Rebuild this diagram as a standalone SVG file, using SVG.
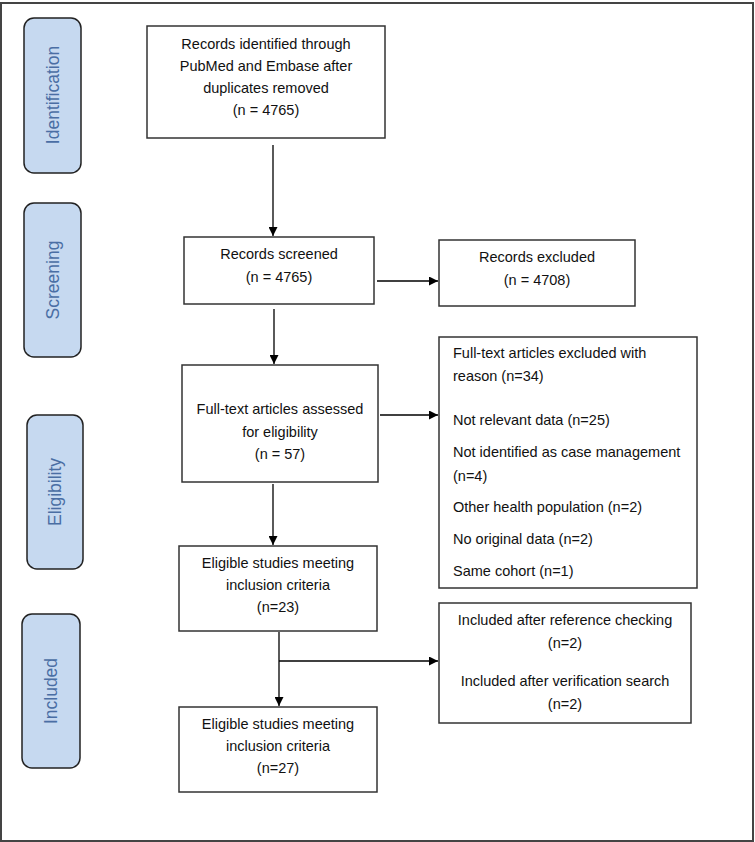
<svg xmlns="http://www.w3.org/2000/svg" width="755" height="842" viewBox="0 0 755 842">
<defs>
<marker id="ah" viewBox="0 0 10 10" refX="10" refY="5" markerWidth="9" markerHeight="9" markerUnits="userSpaceOnUse" orient="auto">
<path d="M0,0 L10,5 L0,10 z" fill="#000"/>
</marker>
</defs>
<style>
.frame{fill:#fff;stroke:#444;stroke-width:2}
.pill{fill:#c6d9f0;stroke:#222;stroke-width:1.5}
.pt{font-family:"Liberation Sans",Arial,sans-serif;font-size:17.5px;fill:#4a6ea4;text-anchor:middle;dominant-baseline:central}
.box{fill:#fff;stroke:#333;stroke-width:1.5}
.t{font-family:"Liberation Sans",Arial,sans-serif;font-size:14.5px;fill:#111;text-anchor:middle;dominant-baseline:central}
.tl{font-family:"Liberation Sans",Arial,sans-serif;font-size:14.5px;fill:#111;dominant-baseline:central}
.c{fill:none;stroke:#000;stroke-width:1.3}
</style>
<rect x="0" y="0" width="755" height="842" fill="#fff"/>
<rect class="frame" x="1" y="3" width="752" height="838"/>

<g id="stage-identification">
<rect class="pill" x="24" y="18" width="57" height="155" rx="10"/>
<text class="pt" transform="translate(52.5,95) rotate(-90)">Identification</text>
</g>
<g id="stage-screening">
<rect class="pill" x="24" y="203" width="57" height="154" rx="10"/>
<text class="pt" transform="translate(52.5,280) rotate(-90)">Screening</text>
</g>
<g id="stage-eligibility">
<rect class="pill" x="27" y="415" width="56" height="154" rx="10"/>
<text class="pt" transform="translate(55,492) rotate(-90)">Eligibility</text>
</g>
<g id="stage-included">
<rect class="pill" x="22" y="614" width="58" height="154" rx="10"/>
<text class="pt" transform="translate(51,691) rotate(-90)">Included</text>
</g>

<g id="connectors">
<line class="c" x1="273" y1="145" x2="273" y2="236" marker-end="url(#ah)"/>
<line class="c" x1="377" y1="281" x2="438" y2="281" marker-end="url(#ah)"/>
<line class="c" x1="274" y1="309" x2="274" y2="364" marker-end="url(#ah)"/>
<line class="c" x1="380" y1="415" x2="438" y2="415" marker-end="url(#ah)"/>
<line class="c" x1="273" y1="484" x2="273" y2="545" marker-end="url(#ah)"/>
<line class="c" x1="279" y1="632" x2="279" y2="706" marker-end="url(#ah)"/>
<line class="c" x1="279" y1="661" x2="438" y2="661" marker-end="url(#ah)"/>
</g>

<g id="n-identified">
<rect class="box" x="147" y="26" width="238" height="112"/>
<text class="t" x="266" y="44">Records identified through</text>
<text class="t" x="266" y="66">PubMed and Embase after</text>
<text class="t" x="266" y="88">duplicates removed</text>
<text class="t" x="266" y="110">(n = 4765)</text>
</g>
<g id="n-screened">
<rect class="box" x="184" y="237" width="190" height="67"/>
<text class="t" x="279" y="254">Records screened</text>
<text class="t" x="279" y="277">(n = 4765)</text>
</g>
<g id="n-excluded">
<rect class="box" x="439" y="240" width="196" height="66"/>
<text class="t" x="537" y="257">Records excluded</text>
<text class="t" x="537" y="280">(n = 4708)</text>
</g>
<g id="n-fulltext">
<rect class="box" x="182" y="365" width="196" height="117"/>
<text class="t" x="280" y="409">Full-text articles assessed</text>
<text class="t" x="280" y="432">for eligibility</text>
<text class="t" x="280" y="454">(n = 57)</text>
</g>
<g id="n-ft-excluded">
<rect class="box" x="439" y="337" width="258" height="251"/>
<text class="tl" x="453" y="353">Full-text articles excluded with</text>
<text class="tl" x="453" y="376">reason (n=34)</text>
<text class="tl" x="453" y="420">Not relevant data (n=25)</text>
<text class="tl" x="453" y="452">Not identified as case management</text>
<text class="tl" x="453" y="476">(n=4)</text>
<text class="tl" x="453" y="507">Other health population (n=2)</text>
<text class="tl" x="453" y="539">No original data (n=2)</text>
<text class="tl" x="453" y="571">Same cohort (n=1)</text>
</g>
<g id="n-eligible23">
<rect class="box" x="179" y="546" width="198" height="85"/>
<text class="t" x="278" y="563">Eligible studies meeting</text>
<text class="t" x="278" y="585">inclusion criteria</text>
<text class="t" x="278" y="607">(n=23)</text>
</g>
<g id="n-added">
<rect class="box" x="439" y="603" width="252" height="120"/>
<text class="t" x="565" y="620">Included after reference checking</text>
<text class="t" x="565" y="643">(n=2)</text>
<text class="t" x="565" y="681">Included after verification search</text>
<text class="t" x="565" y="704">(n=2)</text>
</g>
<g id="n-eligible27">
<rect class="box" x="179" y="707" width="198" height="85"/>
<text class="t" x="278" y="724">Eligible studies meeting</text>
<text class="t" x="278" y="746">inclusion criteria</text>
<text class="t" x="278" y="768">(n=27)</text>
</g>
</svg>
